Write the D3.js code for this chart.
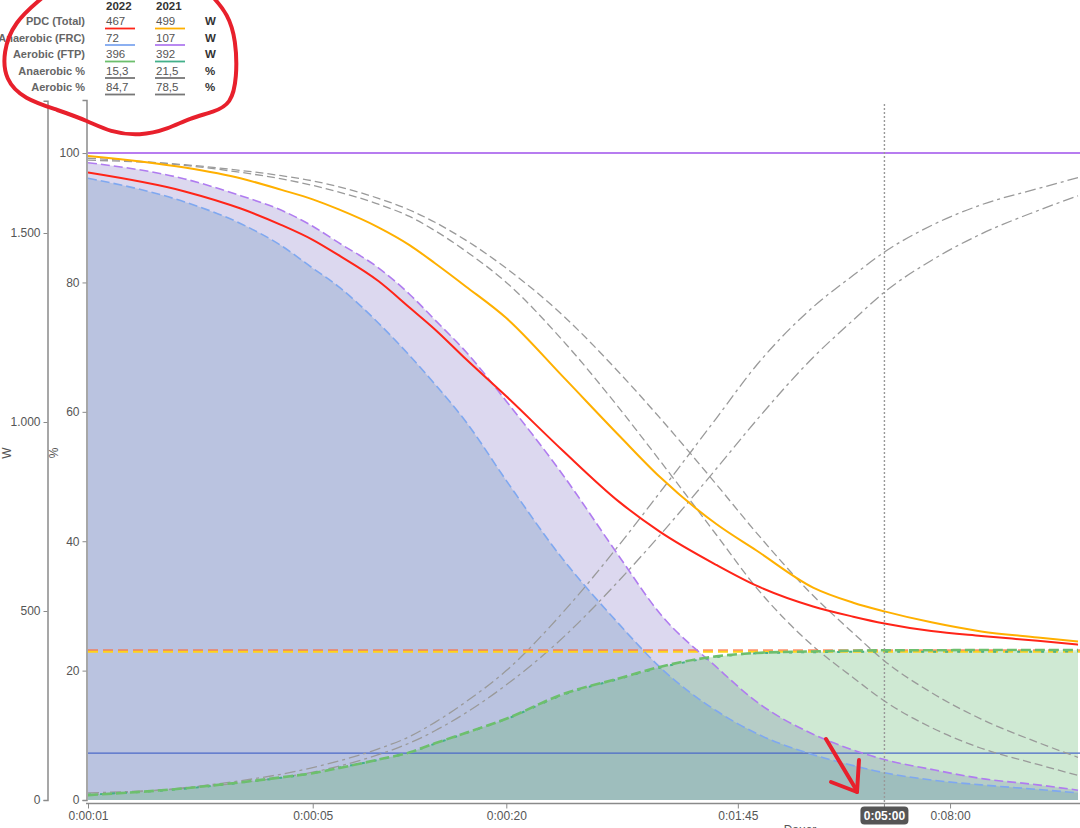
<!DOCTYPE html>
<html><head><meta charset="utf-8">
<script src="https://cdn.jsdelivr.net/npm/d3@7"></script>
<style>html,body{margin:0;padding:0;background:#fff;overflow:hidden}svg{display:block;font-family:"Liberation Sans",Arial,Helvetica,sans-serif}</style>
</head><body><svg id="c" width="1080" height="828"></svg>
<script>
// ---------- DATA ----------
const durations = [1,2,3,4,5,6,8,10,12,15,20,30,45,60,90,120,180,240,300,420,600,900,1200];
const total2022 = [1660,1610,1564,1521,1482,1442,1373,1303,1245,1166,1068,924,788,710,622,567,512,485,467,447,434,421,411];
const total2021 = [1704,1673,1644,1614,1589,1563,1515,1468,1420,1358,1275,1120,963,855,730,660,562,522,499,470,446,430,419];
const anaer2022 = [1645,1582,1524,1466,1407,1359,1262,1176,1100,1000,845,637,464,352,236,176,120,91,72,53,40,28,19];
const anaer2021 = [1686,1643,1598,1560,1518,1475,1408,1338,1270,1185,1055,860,643,494,352,260,174,132,107,81,57,40,26];
const aer2022 = [13,31,47,60,71,84,107,126,150,178,215,280,322,352,380,389,393,395,396,396,397,397,397];
const aer2021 = [14,30,46,59,71,85,106,126,149,177,214,278,321,350,378,388,391,392,392,392,392,392,393];
const anaerPct2022 = [99.2,98.1,97.0,96.0,95.0,94.0,92.1,90.2,88.0,84.8,80.0,71.0,60.5,52.5,41.0,32.8,23.8,18.9,15.3,11.2,8.0,5.5,3.8];
const aerPct2022 = [0.8,1.9,3.0,4.0,5.0,6.0,7.9,9.8,12.0,15.2,20.0,29.0,39.5,47.5,59.0,67.2,76.2,81.1,84.7,88.8,92.0,94.5,96.2];
const anaerPct2021 = [98.9,98.2,97.3,96.5,95.7,94.8,93.0,91.2,89.3,86.5,82.2,74.9,66.0,59.1,48.8,41.3,31.6,25.8,21.5,16.6,12.5,8.9,6.6];
const aerPct2021 = [1.1,1.8,2.7,3.5,4.3,5.2,7.0,8.8,10.7,13.5,17.8,25.1,34.0,40.9,51.2,58.7,68.4,74.2,78.5,83.4,87.5,91.1,93.4];
const ftp2022 = 396, ftp2021 = 392, refLineW = 124, fullPct = 100;
const xTicks = [1,5,20,105,480];
const highlightDuration = 300;
const wTicks = [0,500,1000,1500];
const pctTicks = [0,20,40,60,80,100];
const legendYears = ["2022","2021"];
const legendRows = ["PDC (Total)","Anaerobic (FRC)","Aerobic (FTP)","Anaerobic %","Aerobic %"];
const legend2022 = ["467","72","396","15,3","84,7"];
const legend2021 = ["499","107","392","21,5","78,5"];
const legendUnits = ["W","W","W","%","%"];
const xTitle = "Dauer";

// ---------- SETUP ----------
const svg = d3.select("#c");
const X0 = 88, X1 = 1078, PR = 1080, YB = 800;
const x = d3.scaleLog().domain([1,1200]).range([X0,X1]);
const yW = d3.scaleLinear().domain([0,1850]).range([YB,100.7]);
const yP = d3.scaleLinear().domain([0,108.2]).range([YB,100]);
const de = d3.formatLocale({decimal:",",thousands:".",grouping:[3],currency:["","€"]});
const fmtW = de.format(",");
const fmtT = s => { const h=Math.floor(s/3600), m=Math.floor(s%3600/60), sec=Math.round(s%60);
  return h+":"+String(m).padStart(2,"0")+":"+String(sec).padStart(2,"0"); };

svg.append("defs").append("clipPath").attr("id","plot").append("rect")
  .attr("x",X0).attr("y",95).attr("width",PR-X0).attr("height",YB-95+1);

const rows = d => durations.map((t,i)=>({t,v:d[i]}));
const curve = d3.curveMonotoneX;
const plot = svg.append("g").attr("clip-path","url(#plot)");

function area(data, scale, fill, op){
  plot.append("path").datum(rows(data))
    .attr("d", d3.area().curve(curve).x(d=>x(d.t)).y0(scale(0)).y1(d=>scale(d.v)))
    .attr("fill",fill).attr("fill-opacity",op);
}
function line(data, scale, stroke, w, dash, op){
  plot.append("path").datum(rows(data))
    .attr("d", d3.line().curve(curve).x(d=>x(d.t)).y(d=>scale(d.v)))
    .attr("fill","none").attr("stroke",stroke).attr("stroke-width",w)
    .attr("stroke-dasharray",dash||null).attr("stroke-opacity",op==null?1:op);
}
function hline(val, scale, stroke, w, dash, op){
  plot.append("line").attr("x1",X0).attr("x2",PR).attr("y1",scale(val)).attr("y2",scale(val))
    .attr("stroke",stroke).attr("stroke-width",w).attr("stroke-dasharray",dash||null)
    .attr("stroke-opacity",op==null?1:op);
}

// areas
area(anaer2021, yW, "rgb(138,125,202)", 0.3);
area(anaer2022, yW, "rgb(110,145,190)", 0.3);
area(aer2021, yW, "rgb(95,178,105)", 0.16);
area(aer2022, yW, "rgb(95,178,105)", 0.16);

// reference lines
hline(fullPct, yP, "#b77cf0", 2);
hline(refLineW, yW, "#4a68c8", 1.2);

// percentage lines
line(anaerPct2021, yP, "#9a9a9a", 1.3, "8,4");
line(anaerPct2022, yP, "#9a9a9a", 1.3, "8,4");
line(aerPct2022, yP, "#9a9a9a", 1.3, "11,4,3,4");
line(aerPct2021, yP, "#9a9a9a", 1.3, "11,4,3,4");

// FTP
hline(ftp2022, yW, "#ff6a3a", 2, "10,5", 0.75);
hline(ftp2021, yW, "#ffd21a", 2, "10,5");

// power lines
line(anaer2022, yW, "#7fa8f0", 1.6, "9,4");
line(anaer2021, yW, "#b07cf0", 1.6, "9,4");
line(aer2021, yW, "#43b08a", 2, "3,9");
line(aer2022, yW, "#6dbf6d", 2.6, "10,4");
line(total2021, yW, "#ffb000", 2);
line(total2022, yW, "#ff2418", 2);

// crosshair
svg.append("line").attr("x1",x(highlightDuration)).attr("x2",x(highlightDuration))
  .attr("y1",104).attr("y2",803).attr("stroke","#999").attr("stroke-width",1.4).attr("stroke-dasharray","2,2");

// ---------- AXES ----------
function styleAxis(g){
  g.selectAll(".domain").attr("stroke","#8a8a8a").attr("stroke-width",1.5);
  g.selectAll(".tick line").attr("stroke","#8a8a8a");
  g.selectAll(".tick text").attr("fill","#555").attr("font-size",12);
}
const ax1 = svg.append("g").attr("transform","translate(47.5,0)")
  .call(d3.axisLeft(yW).tickValues(wTicks).tickFormat(fmtW).tickSizeOuter(0).tickSize(4).tickPadding(3));
styleAxis(ax1);
const ax2 = svg.append("g").attr("transform","translate(86.5,0)")
  .call(d3.axisLeft(yP).tickValues(pctTicks).tickSizeOuter(0).tickSize(4).tickPadding(3));
styleAxis(ax2);
const axx = svg.append("g").attr("transform","translate(0,803.5)")
  .call(d3.axisBottom(x).tickValues(xTicks).tickFormat(fmtT).tickSizeOuter(0).tickSize(5).tickPadding(3));
styleAxis(axx);
axx.select(".domain").attr("d",`M86,0H${PR}`);
// highlight tick label
const hx = x(highlightDuration);
axx.append("line").attr("x1",hx).attr("x2",hx).attr("y1",0).attr("y2",5).attr("stroke","#8a8a8a");
axx.append("rect").attr("x",hx-24).attr("y",3).attr("width",48).attr("height",18).attr("rx",4).attr("fill","#555");
axx.append("text").attr("x",hx).attr("y",16.5).attr("text-anchor","middle").attr("fill","#fff")
  .attr("font-size",12).attr("font-weight","bold").text(fmtT(highlightDuration));

svg.append("text").attr("transform","translate(11,453) rotate(-90)").attr("text-anchor","middle")
  .attr("fill","#555").attr("font-size",12).text("W");
svg.append("text").attr("transform","translate(58,453) rotate(-90)").attr("text-anchor","middle")
  .attr("fill","#555").attr("font-size",12).text("%");
svg.append("text").attr("x",800).attr("y",834).attr("text-anchor","middle")
  .attr("fill","#555").attr("font-size",12).text(xTitle);

// ---------- LEGEND ----------
const lg = svg.append("g").attr("font-size",11.5).attr("fill","#555");
const colX = [106,156], rowY0 = 25, rowDy = 16.5;
legendYears.forEach((y,i)=>lg.append("text").attr("x",colX[i]).attr("y",9.5)
  .attr("font-weight","bold").attr("fill","#333").text(y));
const lineColors = [["#ff2418","#ffb000"],["#7fa8f0","#b07cf0"],["#6dbf6d","#43b08a"],["#777","#777"],["#777","#777"]];
legendRows.forEach((r,i)=>{
  const yy = rowY0 + i*rowDy;
  lg.append("text").attr("x",85).attr("y",yy).attr("text-anchor","end").attr("font-weight","bold")
    .attr("font-size",11).attr("fill","#666").text(r);
  [legend2022[i],legend2021[i]].forEach((v,j)=>{
    lg.append("text").attr("x",colX[j]).attr("y",yy).text(v);
    lg.append("line").attr("x1",colX[j]-1).attr("x2",colX[j]+29).attr("y1",yy+3.5).attr("y2",yy+3.5)
      .attr("stroke",lineColors[i][j]).attr("stroke-width",1.8);
  });
  lg.append("text").attr("x",205).attr("y",yy).attr("font-weight","bold").attr("fill","#333").text(legendUnits[i]);
});

// ---------- hand-drawn annotations ----------
const loop = [[42,-2],[14,22],[3,52],[5,80],[24,99],[58,110],[88,121],[110,132],[140,136],[168,129],[190,118],[214,112],[231,104],[237,78],[236,40],[228,14],[212,-4]];
svg.append("path").attr("d",d3.line().curve(d3.curveBasis)(loop)).attr("fill","none")
  .attr("stroke","#e8202c").attr("stroke-width",4).attr("stroke-linecap","round");
const arrow = [[[826,739],[857,791]],[[831,782],[857,792]],[[859,760],[857,792]]];
arrow.forEach(s=>svg.append("path").attr("d",d3.line()(s)).attr("fill","none")
  .attr("stroke","#e8202c").attr("stroke-width",4).attr("stroke-linecap","round"));
</script></body></html>
